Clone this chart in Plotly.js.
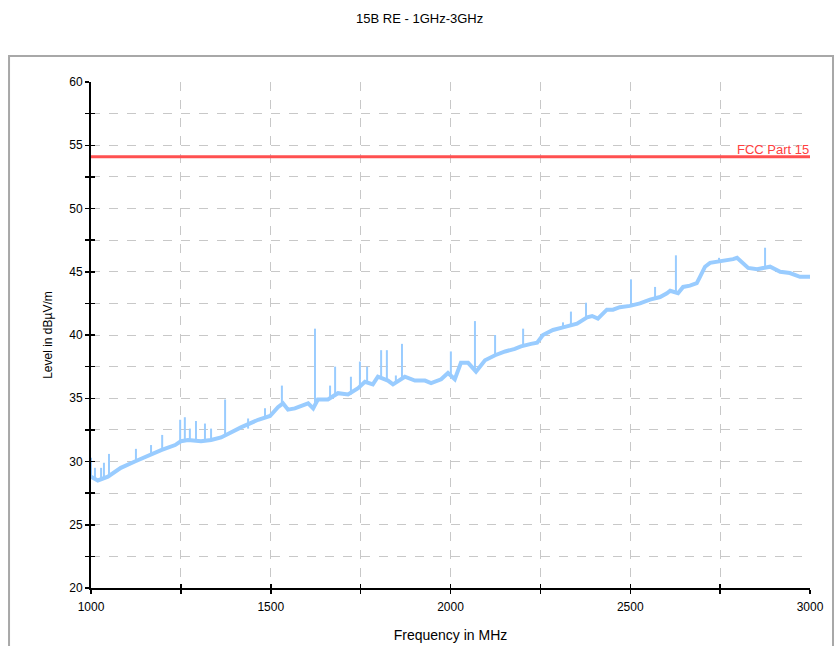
<!DOCTYPE html>
<html>
<head>
<meta charset="utf-8">
<script src="https://cdn.plot.ly/plotly-3.0.1.min.js"></script>
<style>html,body{margin:0;padding:0;background:#fff;}#chart{width:836px;height:646px;}</style>
</head>
<body>
<div id="chart"></div>
<script>
// Measured trace (baseline of the spectrum), MHz / dBµV/m
const baseFreq = [1000,1019,1047,1083,1122,1159,1195,1234,1250,1270,1306,1334,1362,1417,1465,1498,1520,1534,1548,1567,1604,1618,1631,1659,1687,1715,1743,1762,1784,1798,1826,1840,1873,1901,1929,1946,1974,1993,2012,2029,2049,2071,2096,2124,2152,2179,2196,2224,2241,2257,2285,2313,2352,2380,2394,2410,2435,2452,2471,2499,2527,2555,2583,2602,2611,2633,2647,2666,2685,2694,2708,2722,2750,2786,2797,2811,2828,2853,2869,2889,2917,2944,2972,3000];
const baseLevel = [28.8,28.5,28.8,29.5,30.0,30.5,30.9,31.3,31.6,31.7,31.6,31.7,31.9,32.7,33.3,33.6,34.3,34.6,34.1,34.2,34.6,34.2,34.9,34.9,35.4,35.3,35.8,36.3,36.1,36.7,36.4,36.1,36.7,36.4,36.4,36.2,36.5,37.0,36.5,37.8,37.8,37.1,38.0,38.4,38.7,38.9,39.1,39.3,39.4,40.0,40.4,40.6,40.9,41.4,41.5,41.3,42.0,42.0,42.2,42.3,42.5,42.8,43.0,43.3,43.5,43.3,43.8,43.9,44.1,44.6,45.4,45.7,45.8,46.0,46.1,45.7,45.3,45.2,45.3,45.4,45.0,44.9,44.6,44.6];

// Narrow-band spikes
const spikeFreq = [1000,1011,1028,1036,1050,1125,1167,1198,1248,1261,1275,1292,1317,1334,1373,1437,1484,1531,1623,1665,1679,1723,1748,1768,1807,1823,1848,1865,2001,2068,2124,2202,2313,2335,2377,2502,2569,2627,2747,2875];
const spikeBase = [28.8,28.6,28.6,28.7,28.8,30.0,30.6,30.9,31.5,31.6,31.7,31.7,31.6,31.7,32.0,32.6,33.5,34.5,34.6,35.0,35.2,35.3,35.9,36.2,36.6,36.4,36.2,36.5,36.8,37.3,38.4,39.1,40.6,40.7,41.3,42.3,42.9,43.4,45.8,45.3];
const spikePeak = [30.3,29.5,29.5,29.9,30.6,31.0,31.3,32.1,33.3,33.5,32.6,33.2,33.0,32.6,34.9,33.4,34.2,36.0,40.5,36.0,37.5,36.7,37.9,37.5,38.8,38.8,36.8,39.3,38.7,41.1,40.0,40.5,41.0,41.85,42.55,44.4,43.8,46.3,46.1,46.9];

// Limit line
const limitFreq = [1000, 3000];
const limitLevel = [54.1, 54.1];
const limitName = 'FCC Part 15';

// Axis ticks
const xTickVals = [1000,1250,1500,1750,2000,2250,2500,2750,3000];
const xTickText = ['1000','','1500','','2000','','2500','','3000'];
const yTickVals = [20,22.5,25,27.5,30,32.5,35,37.5,40,42.5,45,47.5,50,52.5,55,57.5,60];
const yTickText = yTickVals.map(v => (v % 5 === 0 ? String(v) : ''));

const sx = [], sy = [];
spikeFreq.forEach((f, i) => { sx.push(f, f, null); sy.push(spikeBase[i], spikePeak[i], null); });

const blue = '#99ccff';
const traces = [
  {x: baseFreq, y: baseLevel, mode: 'lines', line: {color: blue, width: 4}, hoverinfo: 'x+y'},
  {x: sx, y: sy, mode: 'lines', line: {color: blue, width: 2}, hoverinfo: 'skip'},
  {x: limitFreq, y: limitLevel, mode: 'lines', line: {color: '#ff5050', width: 3}},
  {x: [1000], y: [20], xaxis: 'x2', yaxis: 'y2', mode: 'markers', marker: {opacity: 0}, hoverinfo: 'skip'}
];

const font = {family: 'Arial, "Liberation Sans", sans-serif', color: '#000', size: 12};
const layout = {
  width: 836, height: 646,
  margin: {l: 91, r: 26, t: 82, b: 58},
  paper_bgcolor: '#fff', plot_bgcolor: '#fff',
  showlegend: false,
  font: font,
  title: {text: '15B RE - 1GHz-3GHz', x: 0.502, xanchor: 'center', y: 0.972, yanchor: 'middle', font: {family: font.family, size: 13, color: '#000'}},
  xaxis: {
    range: [1000, 3000], tickmode: 'array', tickvals: xTickVals, ticktext: xTickText,
    showgrid: true, gridcolor: '#c8c8c8', griddash: 'dash', gridwidth: 1,
    showline: true, linecolor: '#000', linewidth: 1.5,
    ticks: 'outside', ticklen: 4, tickwidth: 1.5, tickcolor: '#000', ticklabelstandoff: 3,
    tickfont: {family: font.family, size: 12, color: '#000'},
    zeroline: false, fixedrange: true,
    title: {text: 'Frequency in MHz', font: {family: font.family, size: 14, color: '#000'}, standoff: 17}
  },
  yaxis: {
    range: [20, 60], tickmode: 'array', tickvals: yTickVals, ticktext: yTickText,
    showgrid: true, gridcolor: '#c8c8c8', griddash: 'dash', gridwidth: 1,
    showline: true, linecolor: '#000', linewidth: 2,
    ticks: 'outside', ticklen: 4, tickwidth: 1.5, tickcolor: '#000',
    tickfont: {family: font.family, size: 12, color: '#000'},
    zeroline: false, fixedrange: true,
    title: {text: 'Level in dBµV/m', font: {family: font.family, size: 12, color: '#000'}, standoff: 14}
  },
  xaxis2: {range: [1000, 3000], overlaying: 'x', anchor: 'y2', side: 'bottom', tickmode: 'array', tickvals: xTickVals,
           showticklabels: false, ticks: 'inside', ticklen: 4, tickwidth: 1.5, tickcolor: '#000', showgrid: false, zeroline: false, showline: false},
  yaxis2: {range: [20, 60], overlaying: 'y', anchor: 'x2', side: 'left', tickmode: 'array', tickvals: yTickVals,
           showticklabels: false, ticks: 'inside', ticklen: 4, tickwidth: 1.5, tickcolor: '#000', showgrid: false, zeroline: false, showline: false},
  annotations: [{
    x: limitFreq[1], y: limitLevel[1], xref: 'x', yref: 'y', xanchor: 'right', yanchor: 'bottom',
    text: limitName, showarrow: false, yshift: -2, xshift: 1,
    font: {family: font.family, size: 13, color: '#ff4040'}
  }],
  shapes: [{
    type: 'rect', xref: 'paper', yref: 'paper', x0: -0.1140, x1: 1.0320, y0: -0.20, y1: 1.0514,
    line: {color: '#a8a8a8', width: 2}, fillcolor: 'rgba(0,0,0,0)', layer: 'below'
  }]
};

Plotly.newPlot('chart', traces, layout, {staticPlot: true, displayModeBar: false});
</script>
</body>
</html>
